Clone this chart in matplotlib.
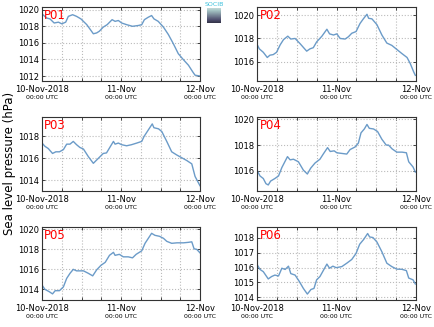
import numpy as np
import pandas as pd
import matplotlib
matplotlib.use('Agg')
import matplotlib.pyplot as plt
import matplotlib.dates as mdates

# hours since 10-Nov-2018 00:00 UTC and sea level pressure (hPa) per station
p01_h = [0, 1.4, 2.4, 3.7, 5, 6, 7.2, 8, 9.3, 10.5, 11.8, 13.6, 15.6, 16.6, 17.4, 18.6, 19.8, 21.3, 22.2,
         23.2, 24.2, 25.7, 27.5, 29.3, 30.3, 31.1, 32.3, 33.3, 34, 35.3, 36.9, 38.4, 39.9, 41.4, 42.9,
         44.5, 45.8, 46.5, 48]
p01_v = [1019.5, 1019.0, 1018.9, 1018.4, 1018.5, 1018.3, 1018.5, 1019.2, 1019.4, 1019.2, 1018.9, 1018.2,
         1017.1, 1017.2, 1017.4, 1017.9, 1018.2, 1018.8, 1018.6, 1018.7, 1018.4, 1018.2, 1018.0, 1018.1,
         1018.2, 1018.8, 1019.1, 1019.3, 1018.9, 1018.6, 1017.9, 1017.0, 1015.9, 1014.7, 1014.0, 1013.3,
         1012.5, 1012.1, 1012.0]

p02_h = [0, 0.7, 1.9, 3.1, 3.9, 4.9, 5.9, 7, 8, 9.3, 10.2, 11.5, 13, 15, 16, 17, 18, 19.6, 21.1, 21.9,
         23.1, 24.1, 25.1, 26.6, 27.6, 28.6, 29.9, 31.1, 32.1, 33.2, 33.7, 34.7, 36.2, 37.7, 39.2, 40.7,
         42.2, 43.7, 45.3, 46.3, 47.3, 47.8]
p02_v = [1017.5, 1017.1, 1016.8, 1016.35, 1016.55, 1016.6, 1016.8, 1017.45, 1017.9, 1018.2, 1017.95,
         1018.0, 1017.55, 1016.9, 1017.1, 1017.2, 1017.7, 1018.2, 1018.8, 1018.4, 1018.3, 1018.4, 1018.0,
         1017.95, 1018.15, 1018.45, 1018.6, 1019.3, 1019.7, 1020.1, 1019.75, 1019.7, 1019.2, 1018.3,
         1017.6, 1017.4, 1017.05, 1016.7, 1016.35, 1015.8, 1015.1, 1014.8]

p03_h = [0, 0.9, 1.9, 3.2, 4.2, 5.3, 6.5, 7.5, 8.5, 9.5, 10.5, 11.5, 12.6, 14.1, 15.6, 16.6, 17.6, 18.6,
         19.6, 20.6, 21.7, 22.2, 23.2, 24.2, 25.7, 27.2, 28.8, 30.3, 31, 32.3, 33.5, 34, 35.4, 36.4, 37.9,
         39.4, 41, 42.5, 44, 45.5, 46.5, 48]
p03_v = [1017.4, 1017.1, 1016.9, 1016.45, 1016.6, 1016.6, 1016.8, 1017.3, 1017.3, 1017.55, 1017.25,
         1017.0, 1016.85, 1016.15, 1015.55, 1015.85, 1016.15, 1016.45, 1016.5, 1017.0, 1017.55, 1017.3,
         1017.4, 1017.25, 1017.15, 1017.25, 1017.4, 1017.55, 1018.0, 1018.6, 1019.15, 1018.8, 1018.7,
         1018.45, 1017.55, 1016.6, 1016.3, 1016.05, 1015.8, 1015.5, 1014.35, 1013.5]

p04_h = [0, 0.9, 1.9, 2.7, 3.4, 4.1, 5.4, 6.5, 7.5, 9.2, 10, 11, 12.5, 14, 15.2, 16.2, 17.5, 19, 20,
         21.3, 22.1, 23.3, 24.1, 25.6, 27.1, 28.1, 29.6, 30.6, 31.4, 32.4, 33.2, 33.9, 35.2, 36.4, 37.7,
         39, 39.7, 40.8, 42.2, 43.8, 45.1, 45.8, 47.1, 47.8]
p04_v = [1016.05, 1015.6, 1015.4, 1015.0, 1014.9, 1015.2, 1015.4, 1015.6, 1016.25, 1017.1, 1016.85,
         1016.9, 1016.7, 1016.05, 1015.75, 1016.2, 1016.6, 1016.9, 1017.3, 1017.8, 1017.5, 1017.55,
         1017.4, 1017.35, 1017.3, 1017.65, 1017.85, 1018.15, 1018.95, 1019.25, 1019.6, 1019.3, 1019.25,
         1019.05, 1018.45, 1018.0, 1018.0, 1017.7, 1017.45, 1017.45, 1017.4, 1016.7, 1016.3, 1015.9]

p05_h = [0, 0.9, 2.2, 3.2, 4, 5.3, 6.5, 7.5, 8.5, 9.5, 10.5, 12.6, 14.1, 15.4, 16.6, 17.9, 19.2, 20.5,
         21.7, 22.2, 23.5, 24.7, 26.2, 27.5, 28.6, 30.3, 31.3, 32.3, 33.3, 34.3, 35.7, 36.9, 37.9, 39.4,
         41, 43, 44.5, 45.5, 46.2, 47, 48]
p05_v = [1014.43, 1014.0, 1013.77, 1013.55, 1013.87, 1013.87, 1014.25, 1015.1, 1015.6, 1016.0, 1015.85,
         1015.85, 1015.6, 1015.35, 1015.95, 1016.4, 1016.7, 1017.4, 1017.7, 1017.4, 1017.5, 1017.25,
         1017.25, 1017.15, 1017.5, 1017.85, 1018.6, 1019.1, 1019.6, 1019.4, 1019.3, 1019.1, 1018.8,
         1018.6, 1018.65, 1018.65, 1018.7, 1018.75, 1018.05, 1018.0, 1017.65]

p06_h = [0, 0.9, 1.9, 3.4, 4.4, 5.4, 6.5, 7.5, 8.5, 9.5, 10.2, 11.5, 12.8, 14, 15.2, 16.3, 17.2, 18, 19,
         20.1, 21.1, 21.9, 22.9, 23.9, 25.6, 27.1, 28.6, 29.9, 31, 32.2, 33.4, 34, 35, 36.2, 37.7, 39.2,
         40.7, 42.2, 43.7, 45.1, 45.8, 47.1, 47.8]
p06_v = [1016.22, 1015.88, 1015.73, 1015.24, 1015.4, 1015.5, 1015.44, 1015.96, 1015.88, 1016.1, 1015.6,
         1015.5, 1015.06, 1014.6, 1014.22, 1014.53, 1014.6, 1015.18, 1015.4, 1015.84, 1016.24, 1015.96,
         1016.1, 1016.0, 1016.07, 1016.3, 1016.55, 1016.96, 1017.58, 1017.9, 1018.3, 1018.07, 1018.03,
         1017.73, 1017.07, 1016.3, 1016.07, 1015.9, 1015.89, 1015.8, 1015.3, 1015.18, 1014.9]

names = ['P01', 'P02', 'P03', 'P04', 'P05', 'P06']
hours = [p01_h, p02_h, p03_h, p04_h, p05_h, p06_h]
values = [p01_v, p02_v, p03_v, p04_v, p05_v, p06_v]
ylims = [(1011.4, 1020.33), (1014.31, 1020.73), (1013.02, 1019.78),
         (1014.43, 1020.18), (1012.94, 1020.23), (1013.82, 1018.74)]
ysteps = [2, 2, 2, 2, 2, 1]

date_labels = ['10-Nov-2018', '11-Nov', '12-Nov']
t0 = pd.Timestamp('2018-11-10 00:00')

# axes boxes in pixels (left, top, width, height)
W, H = 434, 327
boxes = [(42, 7, 158, 74), (257, 7, 159, 74),
         (42, 117, 158, 74), (257, 117, 159, 74),
         (42, 227, 158, 73), (257, 227, 159, 73)]

fig = plt.figure(figsize=(4.34, 3.27), dpi=100)

for i in range(6):
    x0, y0, w, h = boxes[i]
    ax = fig.add_axes([x0 / W, 1 - (y0 + h) / H, w / W, h / H])
    t = [t0 + pd.Timedelta(hours=hh) for hh in hours[i]]
    ax.plot(t, values[i], color='#6b9bc8', lw=1.0)
    ax.set_xlim(t0, t0 + pd.Timedelta(hours=48))
    ax.set_ylim(*ylims[i])
    lo = np.ceil(ylims[i][0] / ysteps[i]) * ysteps[i]
    ax.set_yticks(np.arange(lo, ylims[i][1], ysteps[i]))
    ax.yaxis.set_major_formatter(matplotlib.ticker.FormatStrFormatter('%d'))
    major = [t0 + pd.Timedelta(hours=24 * k) for k in range(3)]
    ax.set_xticks(major)
    ax.set_xticklabels(date_labels)
    ax.xaxis.set_minor_locator(mdates.HourLocator(byhour=[6, 12, 18]))
    ax.tick_params(axis='both', which='both', direction='in', length=2, width=0.5,
                   labelsize=6, pad=2, top=True, right=True)
    ax.tick_params(axis='x', pad=3)
    ax.grid(True, which='both', color='#bbbbbb', linestyle=':', lw=0.8)
    for s in ax.spines.values():
        s.set_linewidth(0.8)
        s.set_color('#333333')
    for k in range(3):
        ax.text(major[k], -0.19, '00:00 UTC', fontsize=4.5, ha='center', va='top',
                transform=ax.get_xaxis_transform())
    ax.text(0.015, 0.97, names[i], color='red', fontsize=8.5, ha='left', va='top',
            transform=ax.transAxes)

fig.text(0.022, 0.5, 'Sea level pressure (hPa)', rotation=90, fontsize=8.5, ha='center', va='center')

# small logo at top centre
lax = fig.add_axes([207 / W, 1 - 23 / H, 14 / W, 15 / H])
grad = np.linspace(0, 1, 20).reshape(-1, 1)
lax.imshow(grad, aspect='auto', cmap='bone_r', vmin=-0.3, vmax=1.4)
lax.axis('off')
fig.text(214 / W, 1 - 5 / H, 'SOCIB', color='#3cc0dc', fontsize=4.5, ha='center', va='center')

plt.savefig('out.png', dpi=100)
